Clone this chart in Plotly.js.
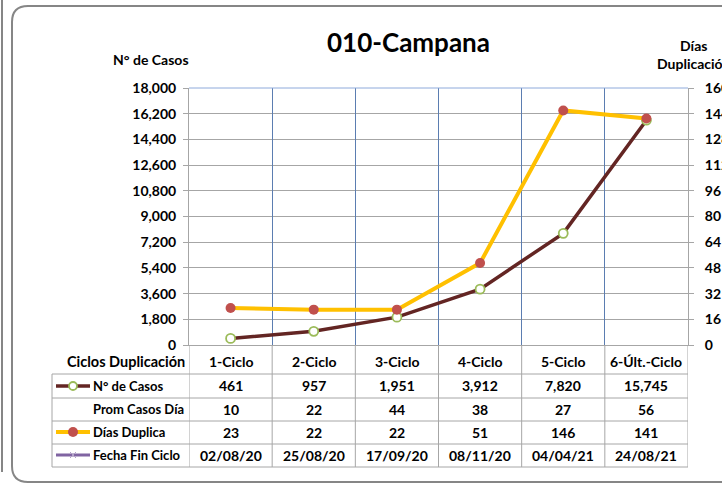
<!DOCTYPE html>
<html>
<head>
<meta charset="utf-8">
<script src="https://cdn.plot.ly/plotly-3.0.1.min.js"></script>
<style>
  html, body { margin: 0; padding: 0; background: #fff; }
  #graph { width: 722px; height: 485px; }
</style>
</head>
<body>
<div id="graph"></div>
<script>
// values
var ciclos = ['1-Ciclo', '2-Ciclo', '3-Ciclo', '4-Ciclo', '5-Ciclo', '6-Últ.-Ciclo'];
var casos = [461, 957, 1951, 3912, 7820, 15745];
var promCasosDia = [10, 22, 44, 38, 27, 56];
var diasDuplica = [23, 22, 22, 51, 146, 141];
var fechaFinCiclo = ['02/08/20', '25/08/20', '17/09/20', '08/11/20', '04/04/21', '24/08/21'];
var casosTicks = [0, 1800, 3600, 5400, 7200, 9000, 10800, 12600, 14400, 16200, 18000];

// plot box in pixels, used to place table pieces in paper units
var L = 189, R = 688, T = 88, B = 345;
function px(x) { return (x - L) / (R - L); }
function py(y) { return (B - y) / (B - T); }

var FONT = 'Lato, "Open Sans", sans-serif';
var grey = '#a6a6a6';

var casosTrace = {
    x: ciclos,
    y: casos,
    name: 'N° de Casos',
    type: 'scatter',
    mode: 'lines+markers',
    line: {color: '#632523', width: 3.5},
    marker: {symbol: 'circle', size: 9, color: '#ffffff', line: {color: '#9bbb59', width: 1.8}},
    yaxis: 'y',
};

var diasTrace = {
    x: ciclos,
    y: diasDuplica,
    name: 'Días Duplica',
    type: 'scatter',
    mode: 'lines+markers',
    line: {color: '#ffc000', width: 4},
    marker: {symbol: 'circle', size: 10, color: '#c0504d'},
    yaxis: 'y2',
};

var annotations = [];
var shapes = [];

function txt(x, y, text, xanchor, size, xref) {
    annotations.push({
        x: x, y: y, xref: xref || 'paper', yref: 'paper',
        text: text, showarrow: false, xanchor: xanchor || 'center', yanchor: 'middle',
        font: {family: FONT, size: size || 14, color: '#000', weight: 'bold'},
    });
}

// titles
txt(px(408), py(42), '010-Campana', 'center', 26);
txt(px(151), py(60), 'N° de Casos', 'center', 14);
annotations.push({
    x: px(655), y: py(54), xref: 'paper', yref: 'paper', xanchor: 'left', yanchor: 'middle',
    align: 'center', showarrow: false, text: 'Días<br>Duplicación',
    font: {family: FONT, size: 14, color: '#000', weight: 'bold'},
});

// data table
var rowY = [386, 409, 432, 455];
var rowLabels = ['N° de Casos', 'Prom Casos Día', 'Días Duplica', 'Fecha Fin Ciclo'];
var rowValues = [
    casos.map(v => v.toLocaleString('en-US')),
    promCasosDia.map(String),
    diasDuplica.map(String),
    fechaFinCiclo,
];

txt(px(187), py(361), 'Ciclos Duplicación', 'right', 14.5);
ciclos.forEach(function (c, i) {
    txt(i, py(361), c, 'center', 14, 'x');
});
rowLabels.forEach(function (lab, r) {
    txt(px(91), py(rowY[r]), lab, 'left', 13);
    rowValues[r].forEach(function (v, i) {
        txt(i, py(rowY[r]), v, 'center', 14, 'x');
    });
});

function line(x0, y0, x1, y1, color, width, xref) {
    shapes.push({
        type: 'line', xref: xref || 'paper', yref: 'paper',
        x0: x0, y0: y0, x1: x1, y1: y1,
        line: {color: color, width: width || 1},
    });
}

[374, 398, 421, 444, 467].forEach(function (y) {
    line(px(52), py(y), 1, py(y), grey, 1);
});
line(px(52), py(374), px(52), py(467), grey, 1);
for (var i = 0; i <= ciclos.length; i++) {
    line(i - 0.5, py(345), i - 0.5, py(467), grey, 1, 'x');
}
// top edge of plot
line(0, 1, 1, 1, '#8eaadb', 1);

// legend keys inside the table
function key(y, color, width) {
    line(px(56), py(y), px(90), py(y), color, width);
}
key(386, '#632523', 3.5);
shapes.push({type: 'circle', xref: 'paper', yref: 'paper', x0: px(69), x1: px(77), y0: py(382), y1: py(390),
    fillcolor: '#fff', line: {color: '#9bbb59', width: 1.8}});
key(432, '#ffc000', 4);
shapes.push({type: 'circle', xref: 'paper', yref: 'paper', x0: px(68), x1: px(78), y0: py(427), y1: py(437),
    fillcolor: '#c0504d', line: {width: 0}});
key(455, '#8064a2', 3);
line(px(70), py(452), px(76), py(458), '#b3a2c7', 1);
line(px(70), py(458), px(76), py(452), '#b3a2c7', 1);

// chart frame
shapes.push({
    type: 'path', xref: 'paper', yref: 'paper', layer: 'below',
    path: 'M ' + px(740) + ',' + py(6) + ' L ' + px(28) + ',' + py(6) +
        ' Q ' + px(12) + ',' + py(6) + ' ' + px(12) + ',' + py(22) +
        ' L ' + px(12) + ',' + py(466) +
        ' Q ' + px(12) + ',' + py(482) + ' ' + px(28) + ',' + py(482) +
        ' L ' + px(740) + ',' + py(482),
    line: {color: '#868686', width: 2},
});
line(px(2), py(0), px(2), py(472), '#868686', 2);

var layout = {
    width: 722,
    height: 485,
    margin: {l: L, r: 722 - R, t: T, b: 485 - B},
    paper_bgcolor: '#ffffff',
    plot_bgcolor: '#ffffff',
    showlegend: false,
    font: {family: FONT, size: 14, color: '#000'},
    xaxis: {
        type: 'category',
        range: [-0.5, 5.5],
        showticklabels: false,
        showgrid: false,
        showline: true,
        linecolor: grey,
        zeroline: false,
        fixedrange: true,
    },
    xaxis2: {
        overlaying: 'x',
        range: [0, 6],
        dtick: 1,
        showgrid: true,
        gridcolor: '#5b7db1',
        gridwidth: 1,
        showticklabels: false,
        zeroline: false,
        showline: false,
    },
    yaxis: {
        range: [0, 18000],
        tickvals: casosTicks,
        tickformat: ',d',
        ticks: 'outside',
        ticklen: 5,
        tickcolor: grey,
        ticklabelstandoff: 4,
        showline: true,
        linecolor: grey,
        showgrid: true,
        gridcolor: grey,
        zeroline: false,
        tickfont: {family: FONT, size: 14, color: '#000', weight: 'bold'},
    },
    yaxis2: {
        overlaying: 'y',
        side: 'right',
        range: [0, 160],
        dtick: 16,
        ticks: 'outside',
        ticklen: 5,
        tickcolor: grey,
        ticklabelstandoff: 8,
        showline: true,
        linecolor: grey,
        showgrid: false,
        zeroline: false,
        tickfont: {family: FONT, size: 14, color: '#000', weight: 'bold'},
    },
    annotations: annotations,
    shapes: shapes,
};

// dummy trace so the vertical grid axis is drawn
var gridTrace = {x: [0], y: [0], xaxis: 'x2', yaxis: 'y', mode: 'markers', marker: {opacity: 0}, hoverinfo: 'skip'};

Plotly.newPlot('graph', [gridTrace, diasTrace, casosTrace], layout, {displayModeBar: false});
</script>
</body>
</html>
